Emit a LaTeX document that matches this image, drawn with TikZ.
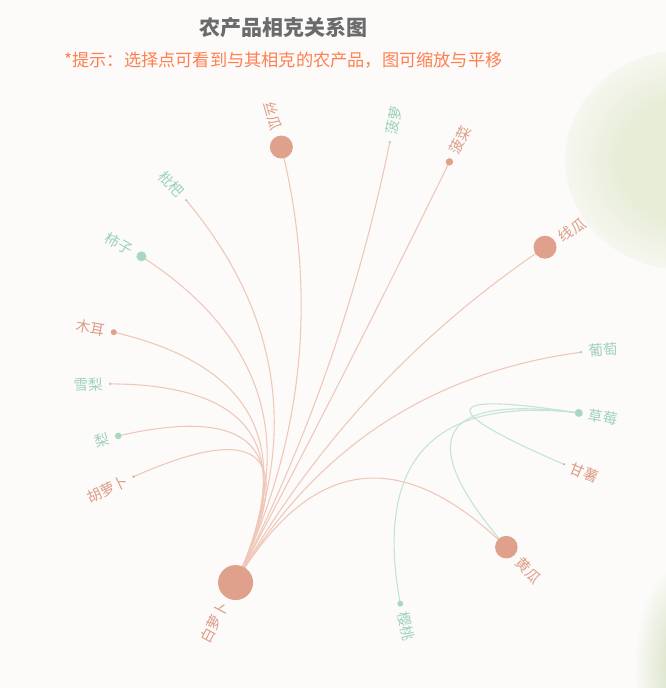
\documentclass[tikz,border=0pt]{standalone}
\usepackage{fontspec}
\newfontfamily\cjk{Noto Sans CJK SC}
\usetikzlibrary{calc}
\definecolor{bgc}{HTML}{FCFBFA}
\definecolor{pnode}{HTML}{E0A18C}
\definecolor{gnode}{HTML}{A8D8C0}
\definecolor{plab}{HTML}{DE9C86}
\definecolor{glab}{HTML}{9ED2B8}
\definecolor{pedge}{HTML}{EFC8BA}
\definecolor{gedge}{HTML}{C4E5D5}
\definecolor{leaf}{HTML}{E8EDD8}
\definecolor{leafd}{HTML}{DDE6CC}
\definecolor{ttl}{HTML}{6B6B6B}
\definecolor{subc}{HTML}{FF7F50}
\pgfdeclarelayer{bglayer}
\pgfdeclarelayer{edgelayer}
\pgfsetlayers{bglayer,edgelayer,main}
\pgfdeclareradialshading{leafsh}{\pgfpoint{0bp}{0bp}}{color(0bp)=(leaf); color(14bp)=(leaf); color(30bp)=(bgc); color(50bp)=(bgc)}
\pgfdeclareradialshading{leafsh2}{\pgfpoint{0bp}{0bp}}{color(0bp)=(leafd); color(10bp)=(leafd); color(26bp)=(bgc); color(50bp)=(bgc)}
\newcommand\rnode[6]{%
  \node[dot,fill=#4,minimum size={2*#3pt}] (#1) at ($(C)+(#2:236pt)$) {};
  \pgfmathsetmacro\rr{236+#3+6}
  \node[lab,text=#5,rotate=#2,anchor=west] (#1-l) at ($(C)+(#2:\rr pt)$) {#6};
}
\newcommand\lnode[6]{%
  \node[dot,fill=#4,minimum size={2*#3pt}] (#1) at ($(C)+(#2:236pt)$) {};
  \pgfmathsetmacro\rr{236+#3+6}
  \node[lab,text=#5,rotate={#2+180},anchor=east] (#1-l) at ($(C)+(#2:\rr pt)$) {#6};
}
\begin{document}
\begin{tikzpicture}[x=1pt,y=-1pt,
  dot/.style={circle,inner sep=0pt,draw=none},
  lab/.style={inner sep=0pt,font=\cjk\fontsize{14.5}{16}\selectfont},
  pe/.style={draw=pedge,line width=1.1pt},
  ge/.style={draw=gedge,line width=1.1pt}]
\useasboundingbox (0,0) rectangle (666,688);
\begin{pgfonlayer}{bglayer}
  \fill[bgc] (0,0) rectangle (666,688);
  \begin{scope}
    \clip (0,0) rectangle (666,688);
    \shade[shading=leafsh] (685,160) ellipse [x radius=120, y radius=110];
    \shade[shading=leafsh2] (690,665) ellipse [x radius=55, y radius=105];
  \end{scope}
\end{pgfonlayer}

\node[font=\cjk\bfseries\fontsize{21}{24}\selectfont,text=ttl] (title) at (283.5,28) {农产品相克关系图};
\node[font=\cjk\fontsize{17.2}{20}\selectfont,text=subc] (subtitle) at (283.5,60) {*提示：选择点可看到与其相克的农产品，图可缩放与平移};

\coordinate (C) at (346,374);
\lnode{hub}{242.1}{17.5}{pnode}{plab}{白萝卜}
\lnode{sigua}{105.9}{11.5}{pnode}{plab}{丝瓜}
\lnode{pipa}{132.6}{1.4}{gnode}{glab}{枇杷}
\lnode{shizi}{150.1}{5}{gnode}{glab}{柿子}
\lnode{muer}{169.8}{3}{pnode}{plab}{木耳}
\lnode{xueli}{182.4}{1.5}{gnode}{glab}{雪梨}
\lnode{li}{195.2}{3.3}{gnode}{glab}{梨}
\lnode{huluobo}{205.8}{1.3}{pnode}{plab}{胡萝卜}
\rnode{boluo}{79.3}{1.4}{gnode}{glab}{菠萝}
\rnode{bocai}{64}{3.7}{pnode}{plab}{菠菜}
\rnode{xiangua}{32.5}{11.5}{pnode}{plab}{线瓜}
\rnode{putao}{5.3}{1.5}{gnode}{glab}{葡萄}
\rnode{caomei}{-9.5}{4}{gnode}{glab}{草莓}
\rnode{ganshu}{-22.5}{1.1}{pnode}{plab}{甘薯}
\rnode{huanggua}{-47.2}{11.3}{pnode}{plab}{黄瓜}
\rnode{yingtao}{-76.7}{3}{gnode}{glab}{樱桃}

\begin{pgfonlayer}{edgelayer}
\foreach \a/\b/\s in {hub/sigua/pe, hub/boluo/pe, hub/bocai/pe, hub/xiangua/pe, hub/putao/pe, hub/huanggua/pe,
  hub/huluobo/pe, hub/li/pe, hub/xueli/pe, hub/muer/pe, hub/shizi/pe, hub/pipa/pe,
  caomei/yingtao/ge, caomei/huanggua/ge, caomei/ganshu/ge} {
  \coordinate (m) at ($(\a.center)!0.5!(\b.center)$);
  \coordinate (q) at ($(C)!0.1!(m)$);
  \draw[\s] (\a.center) .. controls ($(\a.center)!0.6667!(q)$) and ($(\b.center)!0.6667!(q)$) .. (\b.center);
}
\end{pgfonlayer}
\end{tikzpicture}
\end{document}
